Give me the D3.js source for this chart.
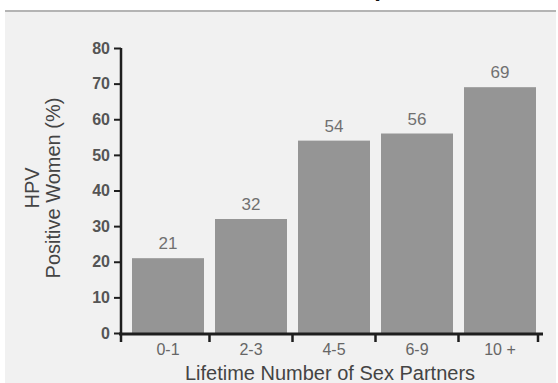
<!DOCTYPE html>
<html>
<head>
<meta charset="utf-8">
<script src="https://cdn.jsdelivr.net/npm/d3@7"></script>
<style>
  html, body { margin: 0; padding: 0; background: #ffffff; }
  svg { display: block; }
</style>
</head>
<body>
<svg id="chart" width="558" height="383"></svg>
<script>
// Lifetime number of sex partners vs. share of HPV-positive women
const categories = ["0-1", "2-3", "4-5", "6-9", "10 +"];
const hpvPositive = [21, 32, 54, 56, 69];
const yTicks = [0, 10, 20, 30, 40, 50, 60, 70, 80];
const yTitleLines = ["HPV", "Positive Women (%)"];
const xTitle = "Lifetime Number of Sex Partners";
const chartTitle = "Sex Partners and HPV Relationship";

const sans = "Arial, 'Liberation Sans', Helvetica, sans-serif";
const svg = d3.select("#chart");

// panel background and header rule
svg.append("rect").attr("x", 5).attr("y", 11).attr("width", 551).attr("height", 372).attr("fill", "#f1f1f1");
svg.append("line").attr("x1", 5).attr("x2", 556).attr("y1", 11).attr("y2", 11)
  .attr("stroke", "#b4b4b4").attr("stroke-width", 2);

// slide title, running off the top of the frame
svg.append("text").attr("x", 389).attr("y", -4).attr("text-anchor", "end")
  .attr("font-family", sans).attr("font-weight", "bold")
  .attr("font-size", 24).attr("fill", "#111").text(chartTitle);

const y = d3.scaleLinear().domain([0, 80]).range([333, 48]);
const x = d3.scaleBand().domain(categories).range([121, 547])
  .paddingInner(11 / 83).paddingOuter(11 / 83);

// bars
svg.append("g").selectAll("rect").data(hpvPositive).join("rect")
  .attr("x", (d, i) => x(categories[i]))
  .attr("y", d => y(d))
  .attr("width", x.bandwidth())
  .attr("height", d => y(0) - y(d))
  .attr("fill", "#959595");

// value labels
svg.append("g").selectAll("text").data(hpvPositive).join("text")
  .attr("x", (d, i) => x(categories[i]) + x.bandwidth() / 2)
  .attr("y", d => y(d) - 9)
  .attr("text-anchor", "middle")
  .attr("font-family", "'Liberation Sans Narrow', 'Arial Narrow', sans-serif")
  .attr("font-size", 17).attr("fill", "#707070")
  .text(d => d);

// y axis
const yAxis = svg.append("g").attr("transform", "translate(121,0)")
  .call(d3.axisLeft(y).tickValues(yTicks).tickSize(7).tickPadding(4));
yAxis.select(".domain").attr("d", "M0," + y(80) + "V" + (y(0) + 2))
  .attr("stroke", "#1e1e1e").attr("stroke-width", 2.5);
yAxis.selectAll(".tick line").attr("stroke", "#1e1e1e").attr("stroke-width", 2);
yAxis.selectAll(".tick text")
  .attr("font-family", sans).attr("font-weight", "bold")
  .attr("font-size", 16).attr("fill", "#555");

// x axis: line, boundary ticks, category labels
const xAxisY = y(0) + 1;
svg.append("line").attr("x1", 119).attr("x2", 543).attr("y1", xAxisY).attr("y2", xAxisY)
  .attr("stroke", "#1e1e1e").attr("stroke-width", 3);
const gap = x.step() - x.bandwidth();
const boundaries = [x.range()[0]]
  .concat(categories.slice(1).map(c => x(c) - gap / 2))
  .concat([x(categories[categories.length - 1]) + x.bandwidth() + 2]);
svg.append("g").selectAll("line").data(boundaries).join("line")
  .attr("x1", d => d).attr("x2", d => d)
  .attr("y1", xAxisY).attr("y2", xAxisY + 8)
  .attr("stroke", "#1e1e1e").attr("stroke-width", 2.5);
svg.append("g").selectAll("text").data(categories).join("text")
  .attr("x", d => x(d) + x.bandwidth() / 2)
  .attr("y", 355)
  .attr("text-anchor", "middle")
  .attr("font-family", sans)
  .attr("font-size", 16).attr("fill", "#666")
  .text(d => d);

// axis titles
svg.append("text").attr("x", 330).attr("y", 380).attr("text-anchor", "middle")
  .attr("font-family", sans)
  .attr("font-size", 20).attr("fill", "#444").text(xTitle);

const yTitle = svg.append("text")
  .attr("transform", "translate(39,188) rotate(-90)")
  .attr("text-anchor", "middle")
  .attr("font-family", sans)
  .attr("font-size", 20).attr("fill", "#444");
yTitle.selectAll("tspan").data(yTitleLines).join("tspan")
  .attr("x", 0).attr("dy", (d, i) => i === 0 ? 0 : 21)
  .text(d => d);
</script>
</body>
</html>
